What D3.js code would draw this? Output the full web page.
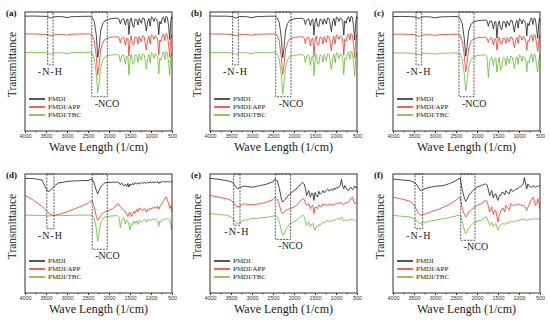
<!DOCTYPE html>
<html>
<head>
<meta charset="utf-8">
<script src="https://cdn.jsdelivr.net/npm/d3@7"></script>
<style>
body { margin: 0; background: #fff; }
svg { display: block; font-family: "Liberation Serif", "Times New Roman", serif; }
</style>
</head>
<body>
<div id="chart"></div>
<script>
// wavenumber grid shared by every spectrum (1/cm)
var waveNumbers = [
    4000, 3800, 3600, 3500, 3450, 3400, 3350, 3300, 3200, 3100, 3000, 2900, 2800, 2650, 2500, 2450,
    2400, 2350, 2300, 2270, 2240, 2200, 2150, 2100, 2000, 1900, 1800,
    1760, 1730, 1700, 1650, 1610, 1580, 1550, 1525, 1500, 1470, 1440, 1410, 1380, 1340, 1310, 1280,
    1230, 1200, 1160, 1110, 1080, 1050, 1020, 990, 960, 930, 900, 870, 840, 815,
    790, 760, 730, 700, 670, 640, 610, 580, 555, 530, 510, 500];
var tickValues = [4000, 3500, 3000, 2500, 2000, 1500, 1000, 500];
var minorTicks = [3750, 3250, 2750, 2250, 1750, 1250, 750];
var seriesNames = ['PMDI', 'PMDI/APP', 'PMDI/TBC'];
var panelLabels = ['(a)', '(b)', '(c)', '(d)', '(e)', '(f)'];

// transmittance (0 = bottom of frame, 100 = top)
var aBlack = [96.5, 96.6, 96.4, 96.3, 95.8, 95.0, 95.3, 96.0, 96.2, 96.0, 95.3, 96.0, 96.2, 96.3, 96.4, 96.5,
    95.5, 92, 80, 62, 68, 84, 90, 92.5, 94, 94.6, 94.8,
    94, 90, 93.5, 94.5, 89, 93.5, 94, 81, 92, 95, 89, 87, 94, 93.5, 89, 94.5,
    90.5, 95, 94.5, 84, 92, 94.5, 88, 96, 95, 92, 95, 94, 92, 81,
    92, 90, 95, 96, 91, 96.5, 95.5, 88, 77, 92, 96, 94];
var aRed = [81.5, 81.6, 81.3, 81.2, 80.8, 80.0, 80.4, 81.0, 81.3, 81.1, 80.6, 81.2, 81.4, 81.5, 81.6, 81.6,
    80.5, 76, 62, 47, 54, 68, 74, 77, 78.5, 79, 79.2,
    78.5, 74, 78, 79, 72, 77.5, 78, 63, 76, 80, 73, 72, 79, 78.5, 73, 79.5,
    75, 80, 79, 68, 76.5, 79.5, 73, 81, 80, 77, 80, 79, 76.5, 64,
    76.5, 75, 80, 81.5, 76, 82, 80.5, 72, 62, 76, 81, 79];
var aGreen = [66, 66.1, 65.9, 65.8, 65.3, 64.5, 64.9, 65.6, 65.8, 65.6, 65.0, 65.7, 65.9, 66, 66.1, 66.1,
    65, 61, 47, 32, 39, 53, 59.5, 62, 63.5, 64, 64.2,
    63.5, 58, 63, 64, 56, 62.5, 63, 47, 60, 64.5, 57, 56, 64, 63.5, 57.5, 64.5,
    59.5, 65, 64, 52, 61, 64.5, 57, 66, 65, 61, 65, 64, 61, 48,
    61, 59.5, 65, 66.5, 60, 67, 65.5, 57, 47, 61, 66, 63];

var bBlack = [96.6, 96.5, 96.5, 96.2, 95.9, 95.1, 95.2, 96.1, 96.3, 95.9, 95.2, 96.1, 96.2, 96.4, 96.5, 96.5,
    95.2, 91, 78, 61.5, 69, 85, 90.5, 93, 94.2, 94.6, 94.7,
    93.8, 89.5, 93.2, 94.4, 88.5, 93.2, 94, 80.5, 91.5, 94.8, 88.5, 87.5, 94, 93.2, 89.5, 94.3,
    90, 95, 94.2, 83.5, 92, 94.5, 88.5, 95.8, 95, 92, 95, 94.2, 92, 80.5,
    92.5, 90.5, 95, 96, 91.5, 96.5, 95.3, 87.5, 76.5, 91.5, 96, 94.5];
var bRed = [81.6, 81.5, 81.4, 81.1, 80.9, 80.1, 80.3, 81.1, 81.3, 81, 80.5, 81.2, 81.3, 81.5, 81.6, 81.6,
    80.2, 75.5, 61, 47.5, 55, 69, 74.5, 77.5, 78.6, 79, 79.1,
    78.3, 73.5, 77.8, 79, 71.5, 77.2, 78, 62.5, 75.5, 79.8, 72.5, 72.2, 79, 78.2, 73.2, 79.3,
    74.5, 80, 78.8, 67.5, 76.3, 79.5, 73.2, 80.8, 80, 77, 80, 79.2, 76.5, 63.5,
    77, 75.5, 80, 81.5, 76.5, 82, 80.3, 71.5, 61.5, 75.5, 81, 79.5];
var bGreen = [66.1, 66, 66, 65.7, 65.4, 64.6, 64.8, 65.7, 65.8, 65.5, 64.9, 65.8, 65.9, 66.1, 66.1, 66.1,
    64.7, 60.5, 46, 31, 40, 54, 60, 62.5, 63.6, 64, 64.1,
    63.3, 57.5, 62.8, 64, 55.5, 62.2, 63, 46.5, 59.5, 64.3, 56.5, 56.2, 64, 63.2, 57.8, 64.3,
    59, 65, 63.8, 51.5, 61, 64.5, 57.2, 65.8, 65, 61, 65, 64.2, 61, 47.5,
    61.5, 60, 65, 66.5, 60.5, 67, 65.3, 56.5, 46.5, 60.5, 66, 63.5];

var cBlack = [96.2, 96.3, 96.1, 96, 95.5, 94.6, 95, 95.8, 96, 95.8, 95.1, 95.8, 96, 96.1, 96.2, 96.2,
    94.5, 90, 77, 63, 70, 84, 89, 91.5, 92.5, 93, 93.2,
    92.5, 88, 92, 92.5, 86, 91.5, 92, 78, 89, 92.5, 86.5, 85, 92, 91.5, 87, 92.5,
    88.5, 93, 92.5, 83, 90.5, 93, 86.5, 94.5, 93.5, 90, 93.5, 92.5, 90, 80,
    90.5, 88.5, 93.5, 95, 89.5, 95, 94, 86, 78, 90, 95, 92];
var cRed = [81.3, 81.4, 81.1, 81, 80.4, 79.4, 79.9, 80.7, 81, 80.8, 80.3, 80.9, 81.1, 81.2, 81.3, 81.3,
    80, 75.5, 63, 49.7, 56, 69, 74.5, 77, 78.2, 78.6, 78.8,
    78, 74.5, 77.5, 78.4, 72.5, 77, 77.5, 68, 75, 78.8, 74, 72.5, 78.2, 77.6, 73.5, 78.5,
    75, 79, 78.3, 70, 76, 78.8, 73.5, 80.5, 79.5, 76.5, 79.5, 78.5, 76, 68,
    76, 75, 79.5, 80.8, 75.5, 81.2, 80, 73, 67, 75.5, 80.5, 78];
var cGreen = [65.5, 65.6, 65.4, 65.3, 64.8, 64, 64.4, 65.1, 65.3, 65.1, 64.6, 65.2, 65.4, 65.5, 65.6, 65.6,
    64.5, 60, 47, 34, 40, 53.5, 59.5, 62, 63.3, 63.8, 64,
    62, 45, 58, 62.5, 55, 60.5, 61.5, 49.5, 57, 62, 51, 53.5, 61.5, 61, 55, 62.5,
    57, 63, 62, 52.5, 59.5, 62.5, 56, 64, 63, 58.5, 63, 62, 58.5, 49.5,
    59, 57.5, 63, 64.5, 58, 65, 63.5, 55, 49.5, 59, 64.5, 61];

var dBlack = [96.4, 96.2, 95, 88, 85.3, 86, 88, 90, 92.5, 93, 93.8, 94, 94.2, 94.4, 94.6, 95.2,
    95.5, 92, 86, 83.3, 86, 89, 91, 92.5, 93, 93, 93.2,
    92.5, 91, 92.5, 90, 91.5, 89.5, 92, 89, 91.5, 90.5, 92.3, 90.8, 92.8, 91.5, 92.6, 91.6,
    92.9, 92, 93, 92, 93.2, 92.4, 93.5, 92.8, 93.3, 92.5, 93.4, 92.8, 93.5, 92,
    93.4, 92.7, 93.6, 93.8, 93, 93.8, 93.4, 93.6, 92.8, 93.9, 93.2, 93.8];
var dRed = [82, 78, 73, 69.5, 67.5, 66.2, 65.5, 65.3, 66, 67, 68.2, 69.5, 71, 73, 75.5, 77,
    77.5, 72, 64, 61, 62.5, 65, 67, 68.2, 69.5, 71, 75,
    74.5, 72.5, 71, 69.5, 68.5, 66, 64.2, 67, 68, 64.5, 66, 68.5, 67, 70.5, 68, 71.5,
    70.5, 69.3, 71, 68, 70.5, 69.5, 71.5, 70.5, 72, 71, 72.3, 71.2, 73, 70.5,
    72.5, 74, 76, 77.5, 79.5, 80.8, 78, 75, 71, 73.5, 72, 68];
var dGreen = [65.4, 65.3, 65.2, 65, 64.8, 64.9, 65, 65.2, 65.3, 65.2, 65.1, 65.3, 65.4, 65.4, 65.5, 65.5,
    65.2, 63, 54, 43.5, 50, 59, 62.5, 63.8, 64.5, 64.8, 65,
    63.5, 55, 61, 63.5, 58, 61.5, 60, 57, 53, 58.5, 57, 60.5, 58.5, 60.8, 57.5, 61,
    59.5, 60.2, 62, 59.5, 61.5, 60.5, 62, 61, 62.5, 61.5, 62.5, 61, 60, 56,
    60.5, 59.5, 61.5, 62, 61.8, 62.5, 62.3, 62.5, 61.5, 58, 53, 57];

var eBlack = [96.4, 95.5, 94.4, 93.5, 92.5, 90, 87.5, 88.5, 89.8, 89.4, 88.9, 89.6, 90.3, 91.5, 93.5, 95.8,
    94.5, 88, 79, 76.4, 77.5, 79, 81.5, 83.3, 86.1, 88.9, 93.1,
    91.7, 88, 81.9, 86.1, 80.5, 84, 83.3, 77.8, 84.5, 82, 80.6, 85.5, 83, 84.5, 86.1, 84,
    86.5, 87.5, 85.5, 87.5, 86, 88, 87, 88.9, 88, 89.5, 90.3, 95.5, 90, 87.5,
    90.3, 88.5, 86.5, 86.1, 88, 88.9, 87, 87.5, 90, 89, 88, 88.9];
var eRed = [82, 80.5, 79.2, 78, 76.4, 74, 72.2, 73, 75, 74.5, 74.2, 74.6, 75, 76.5, 78.5, 80.6,
    79.2, 74, 68, 66.7, 67.5, 69.4, 70.2, 70.8, 72.2, 75, 79.2,
    78.6, 76, 73.6, 75, 70.8, 73, 73.6, 66.7, 72, 72.2, 70.8, 74, 73, 72.5, 75, 74,
    74.5, 73.6, 74.5, 74.2, 73.5, 75, 74.5, 75, 75.5, 75, 75.8, 76, 74.5, 74.2,
    75.5, 76, 75.8, 76.4, 78, 80, 80.6, 77, 75, 76, 76.5, 76.4];
var eGreen = [66.7, 66, 65.3, 64, 62.5, 60, 58.3, 59, 61.1, 61.8, 62.5, 62.8, 63.1, 63.6, 64.5, 65.3,
    63.9, 60, 52, 48.6, 49.5, 52.8, 55.5, 58.3, 59.7, 62.5, 65.3,
    64.5, 61, 56.9, 59.7, 55.6, 58, 58.3, 54, 52.8, 56, 55.6, 57.5, 56.9, 58.3, 59.5, 58.5,
    60.5, 61.1, 60, 60.3, 61, 61.5, 61.2, 62, 62.5, 62, 62.5, 63.9, 61.5, 60.3,
    61, 61.5, 61, 61.1, 61.5, 62, 61.9, 61.5, 61, 60.5, 60, 60.3];

var fBlack = [95.8, 95, 94.4, 93, 91.7, 89, 86.1, 86.8, 88.1, 89, 89.7, 90, 90.3, 92, 94.5, 95.8,
    96.4, 86.1, 80, 77, 78.5, 81.9, 84, 86.1, 88.9, 90.3, 91.7,
    90.8, 87, 81.9, 86.1, 80, 83, 83.3, 79.5, 77.8, 82, 81.9, 84.5, 84.7, 82.5, 86.1, 84.5,
    83.3, 87.5, 85.5, 86.1, 87, 87.5, 88, 88.9, 89.5, 90.3, 91.7, 97, 91, 87.5,
    91.7, 90, 89, 88.9, 90.3, 89.5, 88.9, 89.5, 89.7, 90, 90.3, 90.3];
var fRed = [80.6, 79, 77.2, 74, 70.8, 67.5, 65.3, 65.8, 66.7, 68.1, 69.4, 70.5, 72.2, 74.5, 78, 79.7,
    80.6, 70.8, 66, 63.9, 65, 68.1, 69.5, 70.8, 73.6, 75, 77.8,
    77, 73, 68.1, 72.2, 66, 69, 69.4, 64, 59.7, 66, 68.1, 70.8, 71.5, 68.1, 73.6, 72,
    69.4, 75, 74, 73.6, 74.5, 74, 75, 74.5, 74, 73.6, 73.6, 73, 71, 69.4,
    72, 74, 77, 78.5, 80.6, 78, 73.6, 75, 79.2, 76, 72, 70.8];
var fGreen = [65.3, 64.5, 63.9, 62.5, 61.1, 59.5, 58.3, 58.8, 59.7, 60.5, 61.1, 61.8, 62.5, 63.5, 64.7, 65.3,
    65.5, 59.7, 53, 50, 51.5, 54.2, 56.5, 58.3, 60.3, 61.1, 63.9,
    63.1, 60, 56.9, 59.7, 55.6, 57.5, 58.3, 55, 52.8, 56, 56.9, 58, 58.3, 57.5, 59, 58.5,
    59.5, 60.3, 59.7, 59.7, 60.3, 60.5, 61.1, 61, 61.5, 61.9, 62.2, 62, 61.5, 61.1,
    61.5, 61.8, 62, 61.9, 62.2, 62.5, 62.3, 62.5, 62, 62.3, 62.1, 61.9];

// dashed marker boxes: [high wavenumber, low wavenumber, bottom level]
var nhBoxes = [[3460, 3330, 55.5], [3460, 3326, 55.5], [3452, 3317, 55.5],
    [3480, 3310, 54], [3435, 3285, 56.9], [3476, 3293, 54]];
var ncoBoxes = [[2410, 2040, 28.8], [2436, 2071, 28.8], [2429, 2071, 28.8],
    [2400, 2040, 36.7], [2445, 2080, 45], [2388, 2047, 44.3]];

var panelSeries = [
    [aBlack, aRed, aGreen], [bBlack, bRed, bGreen], [cBlack, cRed, cGreen],
    [dBlack, dRed, dGreen], [eBlack, eRed, eGreen], [fBlack, fRed, fGreen]];

var width = 550, height = 324;
var colX = [25, 210, 393], rowY = [12, 174];
var pw = 147, ph = 119;
var colors = ['#1c1c1c', '#f5301f', '#62bb30'];
var svg;

function init() {
    svg = d3.select('#chart').append('svg')
        .attr('width', width)
        .attr('height', height);
    for (var i = 0; i < 6; i++) {
        drawPanel(i);
    }
}

function drawPanel(i) {
    var g = svg.append('g')
        .attr('transform', 'translate(' + colX[i % 3] + ',' + rowY[Math.floor(i / 3)] + ')');

    var x = d3.scaleLinear().domain([4000, 500]).range([0, pw]);
    var y = d3.scaleLinear().domain([0, 100]).range([ph, 0]);

    var line = d3.line()
        .x(function (d, k) { return x(waveNumbers[k]); })
        .y(function (d) { return y(d); });

    // spectra, green first so black sits on top
    panelSeries[i].slice().reverse().forEach(function (s, k) {
        g.append('path')
            .datum(s)
            .attr('fill', 'none')
            .attr('stroke', colors[2 - k])
            .attr('stroke-width', 0.8)
            .attr('stroke-linejoin', 'round')
            .attr('d', line);
    });

    // dashed boxes and their labels
    var boxes = [nhBoxes[i], ncoBoxes[i]];
    boxes.forEach(function (b, k) {
        g.append('rect')
            .attr('x', x(b[0]))
            .attr('y', 0)
            .attr('width', x(b[1]) - x(b[0]))
            .attr('height', y(b[2]))
            .attr('fill', 'none')
            .attr('stroke', '#333')
            .attr('stroke-width', 0.8)
            .attr('stroke-dasharray', '2,1.2');
        g.append('text')
            .attr('x', k == 0 ? (x(b[0]) + x(b[1])) / 2 : x(b[0]) + 3)
            .attr('y', y(b[2]) + 10)
            .attr('text-anchor', k == 0 ? 'middle' : 'start')
            .attr('font-size', 10)
            .attr('letter-spacing', k == 0 ? 1 : 0)
            .attr('fill', '#222')
            .text(k == 0 ? '-N-H' : '-NCO');
    });

    // frame
    g.append('rect')
        .attr('width', pw)
        .attr('height', ph)
        .attr('fill', 'none')
        .attr('stroke', '#333')
        .attr('stroke-width', 1);

    // x axis
    var axis = g.append('g')
        .attr('transform', 'translate(0,' + ph + ')')
        .call(d3.axisBottom(x).tickValues(tickValues).tickSize(2).tickPadding(1.5).tickFormat(d3.format('d')));
    axis.select('.domain').remove();
    axis.selectAll('text').attr('font-size', 5.5).attr('font-family', null).attr('fill', '#333');
    axis.selectAll('line').attr('stroke', '#333');
    var minor = g.append('g')
        .attr('transform', 'translate(0,' + ph + ')')
        .call(d3.axisBottom(x).tickValues(minorTicks).tickSize(1.3).tickFormat(''));
    minor.select('.domain').remove();
    minor.selectAll('line').attr('stroke', '#333');

    g.append('text')
        .attr('x', pw / 2)
        .attr('y', ph + 20)
        .attr('text-anchor', 'middle')
        .attr('font-size', 12)
        .attr('fill', '#222')
        .text('Wave Length (1/cm)');

    g.append('text')
        .attr('transform', 'translate(-9,' + (ph / 2 - 7) + ') rotate(-90)')
        .attr('text-anchor', 'middle')
        .attr('font-size', 11.5)
        .attr('fill', '#222')
        .text('Transmittance');

    g.append('text')
        .attr('x', -19)
        .attr('y', 4)
        .attr('font-size', 9)
        .attr('font-weight', 'bold')
        .attr('fill', '#111')
        .text(panelLabels[i]);

    // legend
    var legend = g.append('g').attr('transform', 'translate(4,87)');
    seriesNames.forEach(function (name, k) {
        legend.append('line')
            .attr('x1', 0).attr('x2', 16)
            .attr('y1', k * 8).attr('y2', k * 8)
            .attr('stroke', colors[k])
            .attr('stroke-width', 1.5);
        legend.append('text')
            .attr('x', 19)
            .attr('y', k * 8)
            .attr('dy', '0.35em')
            .attr('font-size', 7)
            .attr('fill', '#222')
            .text(name);
    });
}

window.onload = init();
</script>
</body>
</html>
